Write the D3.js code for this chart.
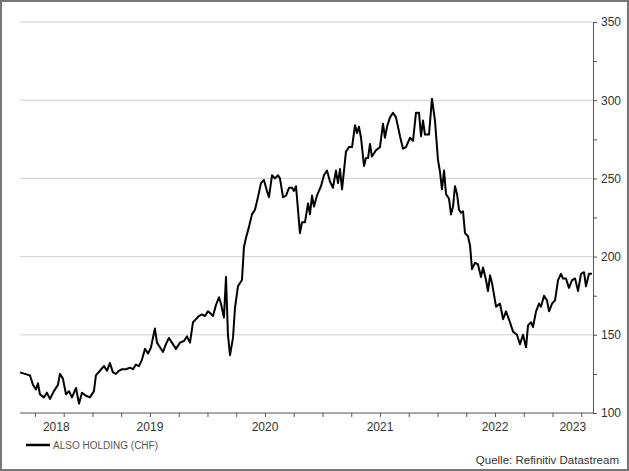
<!DOCTYPE html>
<html><head><meta charset="utf-8">
<script src="https://cdn.jsdelivr.net/npm/d3@7"></script>
<style>body{margin:0;background:#fff}svg{display:block}text{font-family:"Liberation Sans",Arial,sans-serif}</style>
</head><body><svg id="c" width="629" height="471"></svg>
<script>
const yearsSince2018=[.37,.413,.457,.483,.509,.526,.543,.578,.604,.630,.665,.7,.717,.743,.770,.796,.822,.857,.883,.909,.943,.978,1.013,1.030,1.065,1.100,1.126,1.152,1.178,1.204,1.230,1.257,1.291,1.326,1.352,1.378,1.404,1.430,1.457,1.483,1.509,1.543,1.561,1.587,1.613,1.639,1.665,1.691,1.726,1.761,1.796,1.822,1.848,1.874,1.9,1.926,1.952,1.978,2.004,2.022,2.048,2.074,2.1,2.117,2.143,2.161,2.178,2.196,2.222,2.239,2.265,2.3,2.317,2.335,2.361,2.387,2.413,2.439,2.465,2.491,2.517,2.535,2.561,2.587,2.613,2.630,2.657,2.683,2.709,2.735,2.752,2.770,2.804,2.822,2.848,2.874,2.891,2.909,2.926,2.952,2.987,3.013,3.039,3.065,3.091,3.117,3.135,3.152,3.170,3.204,3.230,3.257,3.283,3.3,3.317,3.335,3.361,3.378,3.396,3.413,3.430,3.465,3.5,3.526,3.543,3.561,3.587,3.613,3.639,3.674,3.7,3.726,3.761,3.787,3.813,3.839,3.857,3.874,3.891,3.926,3.952,3.978,4.004,4.022,4.039,4.057,4.074,4.1,4.117,4.135,4.152,4.170,4.187,4.204,4.222,4.239,4.265,4.283,4.3,4.326,4.352,4.378,4.396,4.422,4.439,4.457,4.474,4.509,4.543,4.570,4.596,4.630,4.657,4.691,4.717,4.743,4.770,4.787,4.813,4.830,4.857,4.883,4.9,4.926,4.952,4.970,4.996,5.022,5.048,5.074,5.091,5.117,5.143,5.170,5.196,5.222,5.248,5.274,5.291,5.317,5.343];
const prices=[126,125,124,118,115,119,112,110,113,109,114,118,125,122,112,114,110,116,106,113,111,110,114,124,127,130,127,132,126,125,127,128,128,129,128,131,130,134,141,138,142,154,145,142,139,144,148,145,141,145,146,149,145,158,160,162,163,162,165,164,162,169,174,170,161,187,150,137,148,167,181,185,206,212,219,227,230,238,247,249,242,238,252,250,252,250,238,239,244,244,242,245,215,222,222,234,227,239,232,239,245,252,255,248,244,255,247,256,243,267,270,270,284,279,283,276,258,263,263,272,264,268,270,285,276,283,289,292,289,277,269,270,276,274,292,292,277,287,278,278,301,287,262,254,243,255,240,237,227,232,245,240,230,228,229,215,213,207,192,196,195,187,193,185,178,188,183,168,170,160,165,158,152,150,144,150,142,156,158,155,165,170,168,175,172,165,170,172,185,189,186,186,180,185,186,178,189,190,181,189,189];
const yTicks=[100,150,200,250,300,350];
const yearLabels=["2018","2019","2020","2021","2022","2023"];
const seriesName="ALSO HOLDING (CHF)";
const source="Quelle: Refinitiv Datastream";

const svg=d3.select("#c");
const L=20,R=593,T=22,B=413;
const x=d3.scaleLinear().domain([0.37,5.352]).range([L,R]);
const y=d3.scaleLinear().domain([100,350]).range([B,T]);
svg.append("rect").attr("x",1).attr("y",1).attr("width",627).attr("height",469).attr("fill","#fff").attr("stroke","#777").attr("stroke-width",2);
svg.append("g").selectAll("line").data(yTicks.slice(1)).join("line")
 .attr("x1",L).attr("x2",R).attr("y1",d=>y(d)).attr("y2",d=>y(d)).attr("stroke","#d0d0d0");
const ya=svg.append("g").attr("transform",`translate(${R},0)`)
 .call(d3.axisRight(y).tickValues(d3.range(100,351,25)).tickSize(4).tickFormat(d=>yTicks.includes(d)?d:""));
ya.selectAll("text").attr("font-size",12).attr("fill","#333").attr("x",8);
ya.selectAll("line").attr("stroke","#555");ya.select(".domain").attr("stroke","#555");
const xa=svg.append("g").attr("transform",`translate(0,${B})`)
 .call(d3.axisBottom(x).tickValues(d3.range(0.5,5.36,0.25)).tickSize(4).tickFormat(""));
xa.selectAll("line").attr("stroke","#555");
xa.select(".domain").attr("d",`M${L},0H${R}`).attr("stroke","#555");
svg.append("g").selectAll("text").data(yearLabels).join("text")
 .attr("x",(d,i)=>{const a=Math.max(i,0.37),b=Math.min(i+1,5.352);return x((a+b)/2);})
 .attr("y",431).attr("text-anchor","middle").attr("font-size",12).attr("fill","#333").text(d=>d);
const data=yearsSince2018.map((t,i)=>[t,prices[i]]);
svg.append("path").datum(data).attr("fill","none").attr("stroke","#000").attr("stroke-width",2).attr("stroke-linejoin","round")
 .attr("d",d3.line().x(d=>x(d[0])).y(d=>y(d[1])));
svg.append("line").attr("x1",26).attr("x2",50).attr("y1",445).attr("y2",445).attr("stroke","#000").attr("stroke-width",2.5);
svg.append("text").attr("x",53).attr("y",449).attr("font-size",10).attr("fill","#555").text(seriesName);
svg.append("text").attr("x",619).attr("y",464).attr("text-anchor","end").attr("font-size",11.5).attr("fill","#333").text(source);
</script></body></html>
